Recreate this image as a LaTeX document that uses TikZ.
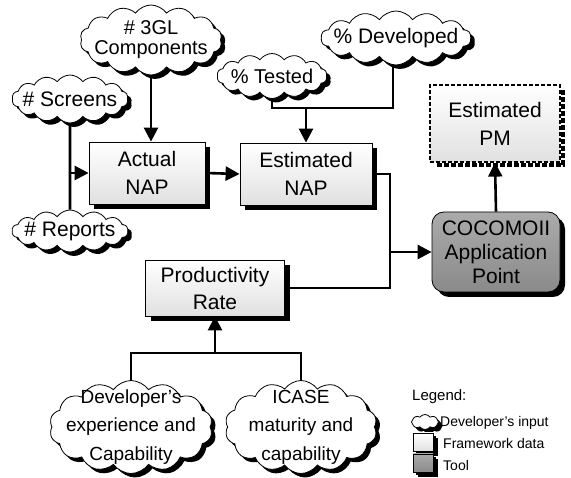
\documentclass[tikz,border=0pt]{standalone}
\usepackage{fontspec}
\setmainfont{Liberation Sans}
\usetikzlibrary{shapes.symbols,shadows,arrows.meta,calc,backgrounds}

\begin{document}
\begin{tikzpicture}[x=1pt,y=-1pt,
  conn/.style={line width=2.6pt},
  flow/.style={conn,-{Triangle[length=14pt,width=14pt]}},
  hardshadow/.style={drop shadow={shadow xshift=#1,shadow yshift=-#1,fill=black,opacity=1}},
  framebox/.style={rectangle,draw=black,line width=0.8pt,top color=white,bottom color=black!12,
    hardshadow=5pt,inner sep=0pt,align=center,font=\fontsize{21}{28}\selectfont},
  outputbox/.style={rectangle,draw=black,line width=1.2pt,dash pattern=on 4pt off 2pt,
    top color=white,bottom color=black!12,inner sep=0pt,align=center,font=\fontsize{21}{28}\selectfont},
  toolbox/.style={framebox,rounded corners=12pt,top color=black!33,bottom color=black!46},
  inputcloud/.style={cloud,cloud puffs=14,cloud puff arc=110,cloud ignores aspect,draw=black,
    line width=0.8pt,fill=white,inner sep=0pt,hardshadow=4pt},
  cloudtext/.style={font=\fontsize{21}{23}\selectfont,align=center},
  bigcloudtext/.style={font=\fontsize{19}{28.5}\selectfont,align=center},
  legendtext/.style={font=\fontsize{14}{16}\selectfont,anchor=west,inner sep=0pt}
]
\useasboundingbox (0,0) rectangle (571,478);

% developer inputs (clouds)
\node[inputcloud,minimum width=142pt,minimum height=70pt,
  label={[cloudtext,font=\fontsize{20}{20}\selectfont]center:\# 3GL\\Components}] (gl) at (151,40) {};
\node[inputcloud,minimum width=116pt,minimum height=48pt,
  label={[cloudtext]center:\# Screens}] (screens) at (70,99) {};
\node[inputcloud,minimum width=116pt,minimum height=42pt,
  label={[cloudtext]center:\# Reports}] (reports) at (70,231) {};
\node[inputcloud,minimum width=110pt,minimum height=45pt,
  label={[cloudtext,font=\fontsize{20}{22}\selectfont]center:\% Tested}] (tested) at (272,76) {};
\node[inputcloud,minimum width=150pt,minimum height=54pt,
  label={[cloudtext]center:\% Developed}] (developed) at (396,38) {};
\node[inputcloud,minimum width=163pt,minimum height=93pt,
  label={[bigcloudtext]center:Developer's\\experience and\\Capability}] (devexp) at (131,427) {};
\node[inputcloud,minimum width=152pt,minimum height=93pt,
  label={[bigcloudtext]center:ICASE\\maturity and\\capability}] (icase) at (301,427) {};

% framework data
\node[framebox,minimum width=116pt,minimum height=62pt] (actual) at (147,173) {Actual\\NAP};
\node[framebox,minimum width=132pt,minimum height=62pt] (estnap) at (306,174) {Estimated\\NAP};
\node[framebox,minimum width=139pt,minimum height=56pt,font=\fontsize{21}{27}\selectfont] (prod) at (215,288) {Productivity\\Rate};

% estimated output, dashed with a dashed shadow
\node[outputbox,minimum width=130pt,minimum height=77pt] (pm) at (495,123.5) {Estimated\\PM};
\begin{scope}[on background layer]
  \draw[line width=4.5pt,dash pattern=on 5pt off 2pt]
    ($(pm.north east)+(2.5,6)$) -- ($(pm.south east)+(2.5,2.5)$) -- ($(pm.south west)+(6,2.5)$);
\end{scope}

% tool
\node[toolbox,minimum width=128pt,minimum height=80pt,font=\fontsize{21}{24}\selectfont] (cocomo) at (496,252) {COCOMOII\\Application\\Point};

% junction points
\coordinate (tdjoin) at (393,108);
\coordinate (bus) at (390,252);
\coordinate (pjoin) at (215,353);

% connectors
\draw[conn] (screens.south) -- (reports.north);
\draw[flow] (screens.south |- actual.west) -- (actual.west);
\draw[flow] (gl.south) -- (gl.south |- actual.north);
\draw[flow] (actual.east) -- (estnap.west);
\draw[conn] (tested.south) |- (tdjoin) -- (tdjoin |- developed.south);
\draw[flow] (estnap.north |- tdjoin) -- (estnap.north);
\draw[conn] (estnap.east) -| (bus);
\draw[conn] (prod.east) -| (bus);
\draw[flow] (bus) -- (cocomo.west);
\draw[flow] (cocomo.north) -- (pm.south);
\draw[conn] (devexp.north) |- (icase.north |- pjoin) -- (icase.north);
\draw[flow] (pjoin) -- (prod.south);

% legend
\node[legendtext,font=\fontsize{15}{17}\selectfont] (legtitle) at (412,397) {Legend:};
\node[inputcloud,cloud puffs=8,minimum width=27pt,minimum height=15pt,hardshadow=2.5pt] (legcloud) at (425,422) {};
\node[legendtext] (legcloudtext) at (440,423) {Developer's input};
\node[framebox,minimum width=20pt,minimum height=18pt,hardshadow=3pt] (legbox) at (423,442) {};
\node[legendtext] (legboxtext) at (443,443) {Framework data};
\node[toolbox,rounded corners=0pt,minimum width=20pt,minimum height=18pt,hardshadow=3pt] (legtool) at (423,463) {};
\node[legendtext] (legtooltext) at (443,465) {Tool};
\end{tikzpicture}
\end{document}
